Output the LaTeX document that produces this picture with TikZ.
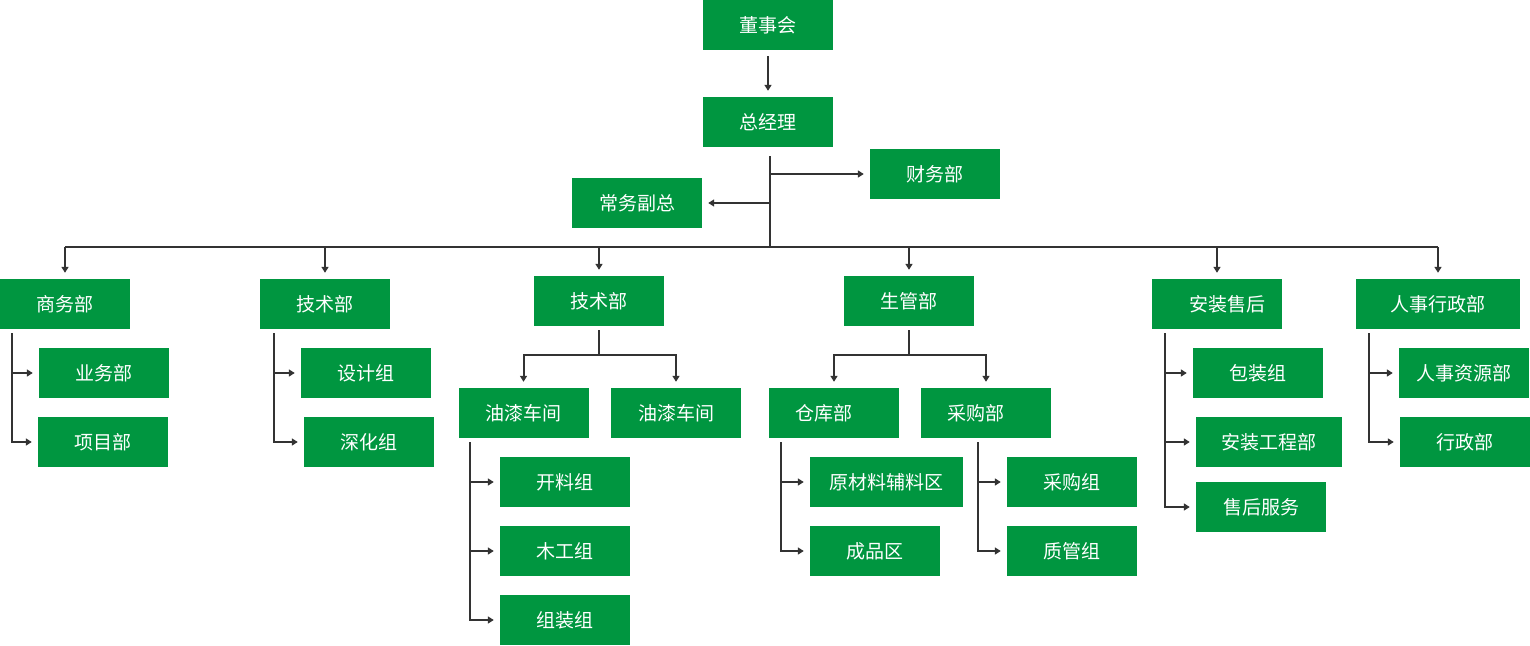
\documentclass[tikz,border=0pt]{standalone}
\usepackage{fontspec}
\newfontfamily\cjk{Noto Sans CJK SC}
\usetikzlibrary{arrows.meta}
\definecolor{orggreen}{HTML}{009640}
\definecolor{orgline}{HTML}{333333}
\begin{document}
\begin{tikzpicture}[x=1pt,y=-1pt,
box/.style ={rectangle, fill=orggreen, text=white,
  minimum width=130pt, minimum height=50pt, inner sep=0pt,
  font=\cjk\fontsize{19}{19}\selectfont
},
wbox/.style ={box, minimum width=#1},
link/.style ={draw=orgline, line width=2pt},
arr/.style ={link, -{Triangle[length=6pt,width=7pt]}, shorten >=6pt}]
\useasboundingbox (0,0) rectangle (1530,645);
\node (dsh) at (768,25) [box] {董事会};
\node (zjl) at (768,122) [box] {总经理};
\node (cwb) at (935,174) [box] {财务部};
\node (cwfz) at (637,203) [box] {常务副总};
\node (swb) at (65,304) [box] {商务部};
\node (jsb1) at (325,304) [box] {技术部};
\node (jsb2) at (599,301) [box] {技术部};
\node (sgb) at (909,301) [box] {生管部};
\node (azsh) at (1217,304) [box] {\hspace*{20pt}安装售后};
\node (rsxz) at (1438,304) [wbox=164pt] {人事行政部};
\node (ywb) at (104,373) [box] {业务部};
\node (xmb) at (103,442) [box] {项目部};
\node (sjz) at (366,373) [box] {设计组};
\node (shz) at (369,442) [box] {深化组};
\node (yq1) at (523.5,413) [box] {油漆车间};
\node (yq2) at (676,413) [box] {油漆车间};
\node (klz) at (565,482) [box] {开料组};
\node (mgz) at (565,551) [box] {木工组};
\node (zzz) at (565,620) [box] {组装组};
\node (ckb) at (834,413) [box] {仓库部\hspace*{20pt}};
\node (cgb) at (986,413) [box] {采购部\hspace*{20pt}};
\node (ycl) at (886.5,482) [wbox=153pt] {原材料辅料区};
\node (cpq) at (875,551) [box] {成品区};
\node (cgz) at (1072,482) [box] {采购组};
\node (zgz) at (1072,551) [box] {质管组};
\node (bzz) at (1258,373) [box] {包装组};
\node (azgc) at (1269,442) [wbox=146pt] {安装工程部};
\node (shfw) at (1261,507) [box] {售后服务};
\node (rszy) at (1464,373) [box] {人事资源部};
\node (xzb) at (1465,442) [box] {行政部};
\coordinate (bus) at (770,247);
\coordinate (jsb2-m) at ([yshift=-29pt]jsb2.south);
\coordinate (sgb-m) at ([yshift=-29pt]sgb.south);
\coordinate (swb-t) at ([shift={(12,4)}]swb.south west);
\coordinate (jsb1-t) at ([shift={(14,4)}]jsb1.south west);
\coordinate (yq1-t) at ([shift={(12,4)}]yq1.south west);
\coordinate (ckb-t) at ([shift={(12,4)}]ckb.south west);
\coordinate (cgb-t) at ([shift={(57,4)}]cgb.south west);
\coordinate (azsh-t) at ([shift={(13,4)}]azsh.south west);
\coordinate (rsxz-t) at ([shift={(13,4)}]rsxz.south west);
\draw[arr, shorten <=6pt] (dsh) -- (zjl);
\draw[link] ([xshift=2pt,yshift=-9pt]zjl.south) -- (bus);
\draw[arr] (bus |- cwb) -- (cwb);
\draw[arr] (bus |- cwfz) -- (cwfz);
\draw[link] (swb |- bus) -- (rsxz |- bus);
\foreach \n in {swb,jsb1,jsb2,sgb,azsh,rsxz}
  \draw[arr] (\n |- bus) -- (\n);
\draw[link] ([yshift=-4pt]jsb2.south) -- (jsb2-m);
\draw[arr] (jsb2-m) -| (yq1);
\draw[arr] (jsb2-m) -| (yq2);
\draw[link] ([yshift=-4pt]sgb.south) -- (sgb-m);
\draw[arr] (sgb-m) -| (ckb);
\draw[arr] (sgb-m) -| (cgb);
\foreach \c in {ywb,xmb} \draw[arr] (swb-t) |- (\c);
\foreach \c in {sjz,shz} \draw[arr] (jsb1-t) |- (\c);
\foreach \c in {klz,mgz,zzz} \draw[arr] (yq1-t) |- (\c);
\foreach \c in {ycl,cpq} \draw[arr] (ckb-t) |- (\c);
\foreach \c in {cgz,zgz} \draw[arr] (cgb-t) |- (\c);
\foreach \c in {bzz,azgc,shfw} \draw[arr] (azsh-t) |- (\c);
\foreach \c in {rszy,xzb} \draw[arr] (rsxz-t) |- (\c);
\end{tikzpicture}
\end{document}
